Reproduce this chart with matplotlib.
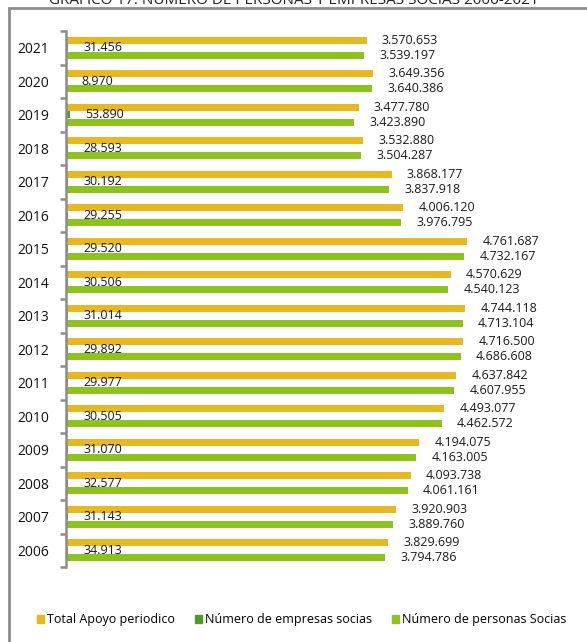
import matplotlib
matplotlib.use("Agg")
import matplotlib.pyplot as plt
from matplotlib.patches import Rectangle, Patch

plt.rcParams["font.family"] = ["Open Sans", "DejaVu Sans"]

# data (top row first)
years = ["2021", "2020", "2019", "2018", "2017", "2016", "2015", "2014",
         "2013", "2012", "2011", "2010", "2009", "2008", "2007", "2006"]
total_apoyo = [3570653, 3649356, 3477780, 3532880, 3868177, 4006120, 4761687, 4570629,
               4744118, 4716500, 4637842, 4493077, 4194075, 4093738, 3920903, 3829699]
empresas = [31456, 8970, 53890, 28593, 30192, 29255, 29520, 30506,
            31014, 29892, 29977, 30505, 31070, 32577, 31143, 34913]
personas = [3539197, 3640386, 3423890, 3504287, 3837918, 3976795, 4732167, 4540123,
            4713104, 4686608, 4607955, 4462572, 4163005, 4061161, 3889760, 3794786]

c_total = "#E8B821"
c_emp = "#4F9B29"
c_pers = "#8DC21F"
grey = "#8C8C8C"

W, H = 587, 642
fig = plt.figure(figsize=(W / 100, H / 100), dpi=100)

# outer frame (only left and top edges are visible in the crop)
fig.patches.append(Rectangle((9 / W, -0.05), 1.1, 1.05 - 8 / H + 0.0, transform=fig.transFigure,
                             fill=False, edgecolor=grey, linewidth=2))

# title, cut off at the top of the picture
fig.text(0.5, 1 - 4 / H, "GRÁFICO 17: NÚMERO DE PERSONAS Y EMPRESAS SOCIAS 2006-2021",
         ha="center", va="baseline", fontsize=11, color="#222222")

ax = fig.add_axes([65.5 / W, 1 - 567 / H, 505.8 / W, 536 / H])

n = len(years)
pos = [n - 1 - i for i in range(n)]
h = 0.2
off = 0.225

ax.barh([p + off for p in pos], total_apoyo, height=h, color=c_total)
ax.barh(pos, empresas, height=h, color=c_emp)
ax.barh([p - off for p in pos], personas, height=h, color=c_pers)

def fmt(v):
    return f"{v:,}".replace(",", ".")

for p, a, e, s in zip(pos, total_apoyo, empresas, personas):
    for val, y in ((a, p + off), (e, p), (s, p - off)):
        ax.annotate(fmt(val), (val, y), xytext=(11, 0), textcoords="offset points",
                    ha="left", va="center", fontsize=9, color="#1a1a1a")

ax.set_xlim(0, 6e6)
ax.set_ylim(-0.5, n - 0.5)
ax.xaxis.set_visible(False)
for s in ("top", "right", "bottom"):
    ax.spines[s].set_visible(False)
ax.spines["left"].set_color(grey)
ax.spines["left"].set_linewidth(1.8)

ax.set_yticks([k - 0.5 for k in range(n + 1)])
ax.set_yticklabels([])
ax.tick_params(axis="y", which="major", length=4, width=1.8, color=grey)
ax.set_yticks(pos, minor=True)
ax.set_yticklabels(years, minor=True, fontsize=10, color="#111111")
ax.tick_params(axis="y", which="minor", length=0, pad=12)
ax.patch.set_alpha(0)

handles = [Patch(color=c_total, label="Total Apoyo periodico"),
           Patch(color=c_emp, label="Número de empresas socias"),
           Patch(color=c_pers, label="Número de personas Socias")]
fig.legend(handles=handles, loc="center", bbox_to_anchor=(302 / W, 1 - 620 / H), ncol=3,
           frameon=False, fontsize=9, handlelength=0.55, handleheight=0.55,
           handletextpad=0.25, columnspacing=1.6)

fig.savefig("out.png", dpi=100)
